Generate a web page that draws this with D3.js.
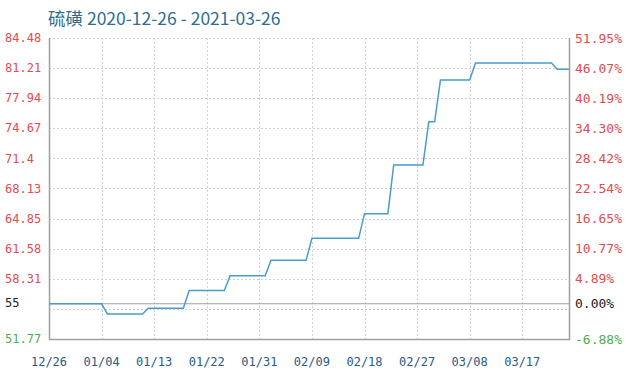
<!DOCTYPE html>
<html>
<head>
    <meta charset="UTF-8">
    <title>硫磺</title>
    <style>
        body { margin: 0; background: #fff; }
    </style>
</head>
<body>
    <div id="chart"></div>
    <script src="https://cdn.jsdelivr.net/npm/d3@7/dist/d3.min.js"></script>
    <script>

    // price points where the line changes
    const dates = ["2020-12-26", "2021-01-04", "2021-01-05", "2021-01-11", "2021-01-12",
        "2021-01-18", "2021-01-19", "2021-01-25", "2021-01-26", "2021-02-01", "2021-02-02",
        "2021-02-08", "2021-02-09", "2021-02-17", "2021-02-18", "2021-02-22", "2021-02-23",
        "2021-02-28", "2021-03-01", "2021-03-02", "2021-03-03", "2021-03-08", "2021-03-09",
        "2021-03-22", "2021-03-23", "2021-03-25"];
    const prices = [55.6, 55.6, 54.49, 54.49, 55.11, 55.11, 57.04, 57.04, 58.65, 58.65, 60.32,
        60.32, 62.71, 62.71, 65.39, 65.39, 70.68, 70.68, 75.38, 75.38, 79.92, 79.92, 81.77,
        81.77, 81.08, 81.08];

    const baseValue = 55.6;
    const baseLabel = "55";
    const basePct = "0.00%";

    const leftTicks = [84.48, 81.21, 77.94, 74.67, 71.4, 68.13, 64.85, 61.58, 58.31, 55.04, 51.77];
    const rightLabels = ["51.95%", "46.07%", "40.19%", "34.30%", "28.42%", "22.54%", "16.65%",
        "10.77%", "4.89%", "", "-6.88%"];
    const xTicks = ["2020-12-26", "2021-01-04", "2021-01-13", "2021-01-22", "2021-01-31",
        "2021-02-09", "2021-02-18", "2021-02-27", "2021-03-08", "2021-03-17"];

    const W = 632, H = 377;
    const margin = {top: 38, right: 63, bottom: 38, left: 49},
        width = W - margin.left - margin.right,
        height = H - margin.top - margin.bottom;

    const parse = d3.timeParse("%Y-%m-%d");
    const data = dates.map((d, i) => ({date: parse(d), value: prices[i]}));

    const x = d3.scaleTime()
        .domain([parse("2020-12-26"), parse("2021-03-25")])
        .range([0, width]);
    const y = d3.scaleLinear()
        .domain([51.77, 84.48])
        .range([height, 0]);

    const svg = d3.select("#chart")
        .append("svg")
        .attr("width", W)
        .attr("height", H);

    svg.append("text")
        .attr("x", 48)
        .attr("y", 25)
        .style("font-family", "'Noto Sans CJK SC', 'Noto Sans', sans-serif")
        .style("font-size", "17.5px")
        .style("fill", "#2e6e90")
        .text("硫磺 2020-12-26 - 2021-03-26");

    const g = svg.append("g")
        .attr("transform", `translate(${margin.left}, ${margin.top})`);

    // dotted grid
    g.append("g")
        .selectAll("line")
        .data(leftTicks)
        .join("line")
        .attr("x1", 0)
        .attr("x2", width)
        .attr("y1", d => Math.round(y(d)) + 0.5)
        .attr("y2", d => Math.round(y(d)) + 0.5)
        .style("stroke", "#d2d2d2")
        .style("stroke-dasharray", "2,2");

    g.append("g")
        .selectAll("line")
        .data(xTicks.slice(1))
        .join("line")
        .attr("x1", d => Math.round(x(parse(d))) + 0.5)
        .attr("x2", d => Math.round(x(parse(d))) + 0.5)
        .attr("y1", 0)
        .attr("y2", height)
        .style("stroke", "#d2d2d2")
        .style("stroke-dasharray", "2,2");

    // frame (left, bottom, right solid)
    g.append("path")
        .attr("d", `M0.5,0V${height + 0.5}H${width + 0.5}V0`)
        .style("fill", "none")
        .style("stroke", "#a0a0a0")
        .style("stroke-width", 1.5);

    // base line
    g.append("line")
        .attr("x1", 0)
        .attr("x2", width)
        .attr("y1", y(baseValue))
        .attr("y2", y(baseValue))
        .style("stroke", "#a0a0a0")
        .style("stroke-width", 1);

    // price line
    const line = d3.line()
        .x(d => x(d.date))
        .y(d => y(d.value));
    g.append("path")
        .datum(data)
        .attr("d", line)
        .style("fill", "none")
        .style("stroke", "#4a9bd0")
        .style("stroke-width", 1.5);

    // left labels
    const mono = "'DejaVu Sans Mono', 'Liberation Mono', monospace";
    const colorOf = (v) => v > baseValue ? "#e24b50" : "#4caf50";

    svg.append("g")
        .selectAll("text")
        .data(leftTicks.filter((d, i) => i !== 9))
        .join("text")
        .attr("x", 5)
        .attr("y", d => margin.top + y(d))
        .attr("dy", "0.35em")
        .style("font-family", mono)
        .style("font-size", "12px")
        .style("fill", d => colorOf(d))
        .text(d => String(d));

    svg.append("text")
        .attr("x", 5)
        .attr("y", margin.top + y(baseValue))
        .attr("dy", "0.3em")
        .style("font-family", mono)
        .style("font-size", "12px")
        .style("fill", "#222")
        .text(baseLabel);

    // right labels
    svg.append("g")
        .selectAll("text")
        .data(leftTicks.map((d, i) => ({v: d, t: rightLabels[i]})).filter(d => d.t !== ""))
        .join("text")
        .attr("x", margin.left + width + 6)
        .attr("y", d => margin.top + y(d.v))
        .attr("dy", "0.35em")
        .style("font-family", mono)
        .style("font-size", "13px")
        .style("fill", d => colorOf(d.v))
        .text(d => d.t);

    svg.append("text")
        .attr("x", margin.left + width + 6)
        .attr("y", margin.top + y(baseValue))
        .attr("dy", "0.3em")
        .style("font-family", mono)
        .style("font-size", "13px")
        .style("fill", "#222")
        .text(basePct);

    // x labels
    const fmt = d3.timeFormat("%m/%d");
    svg.append("g")
        .selectAll("text")
        .data(xTicks)
        .join("text")
        .attr("x", d => margin.left + x(parse(d)))
        .attr("y", 362)
        .attr("dy", "0.35em")
        .attr("text-anchor", "middle")
        .style("font-family", mono)
        .style("font-size", "12px")
        .style("fill", "#2a5a85")
        .text(d => fmt(parse(d)));

    </script>
</body>
</html>
